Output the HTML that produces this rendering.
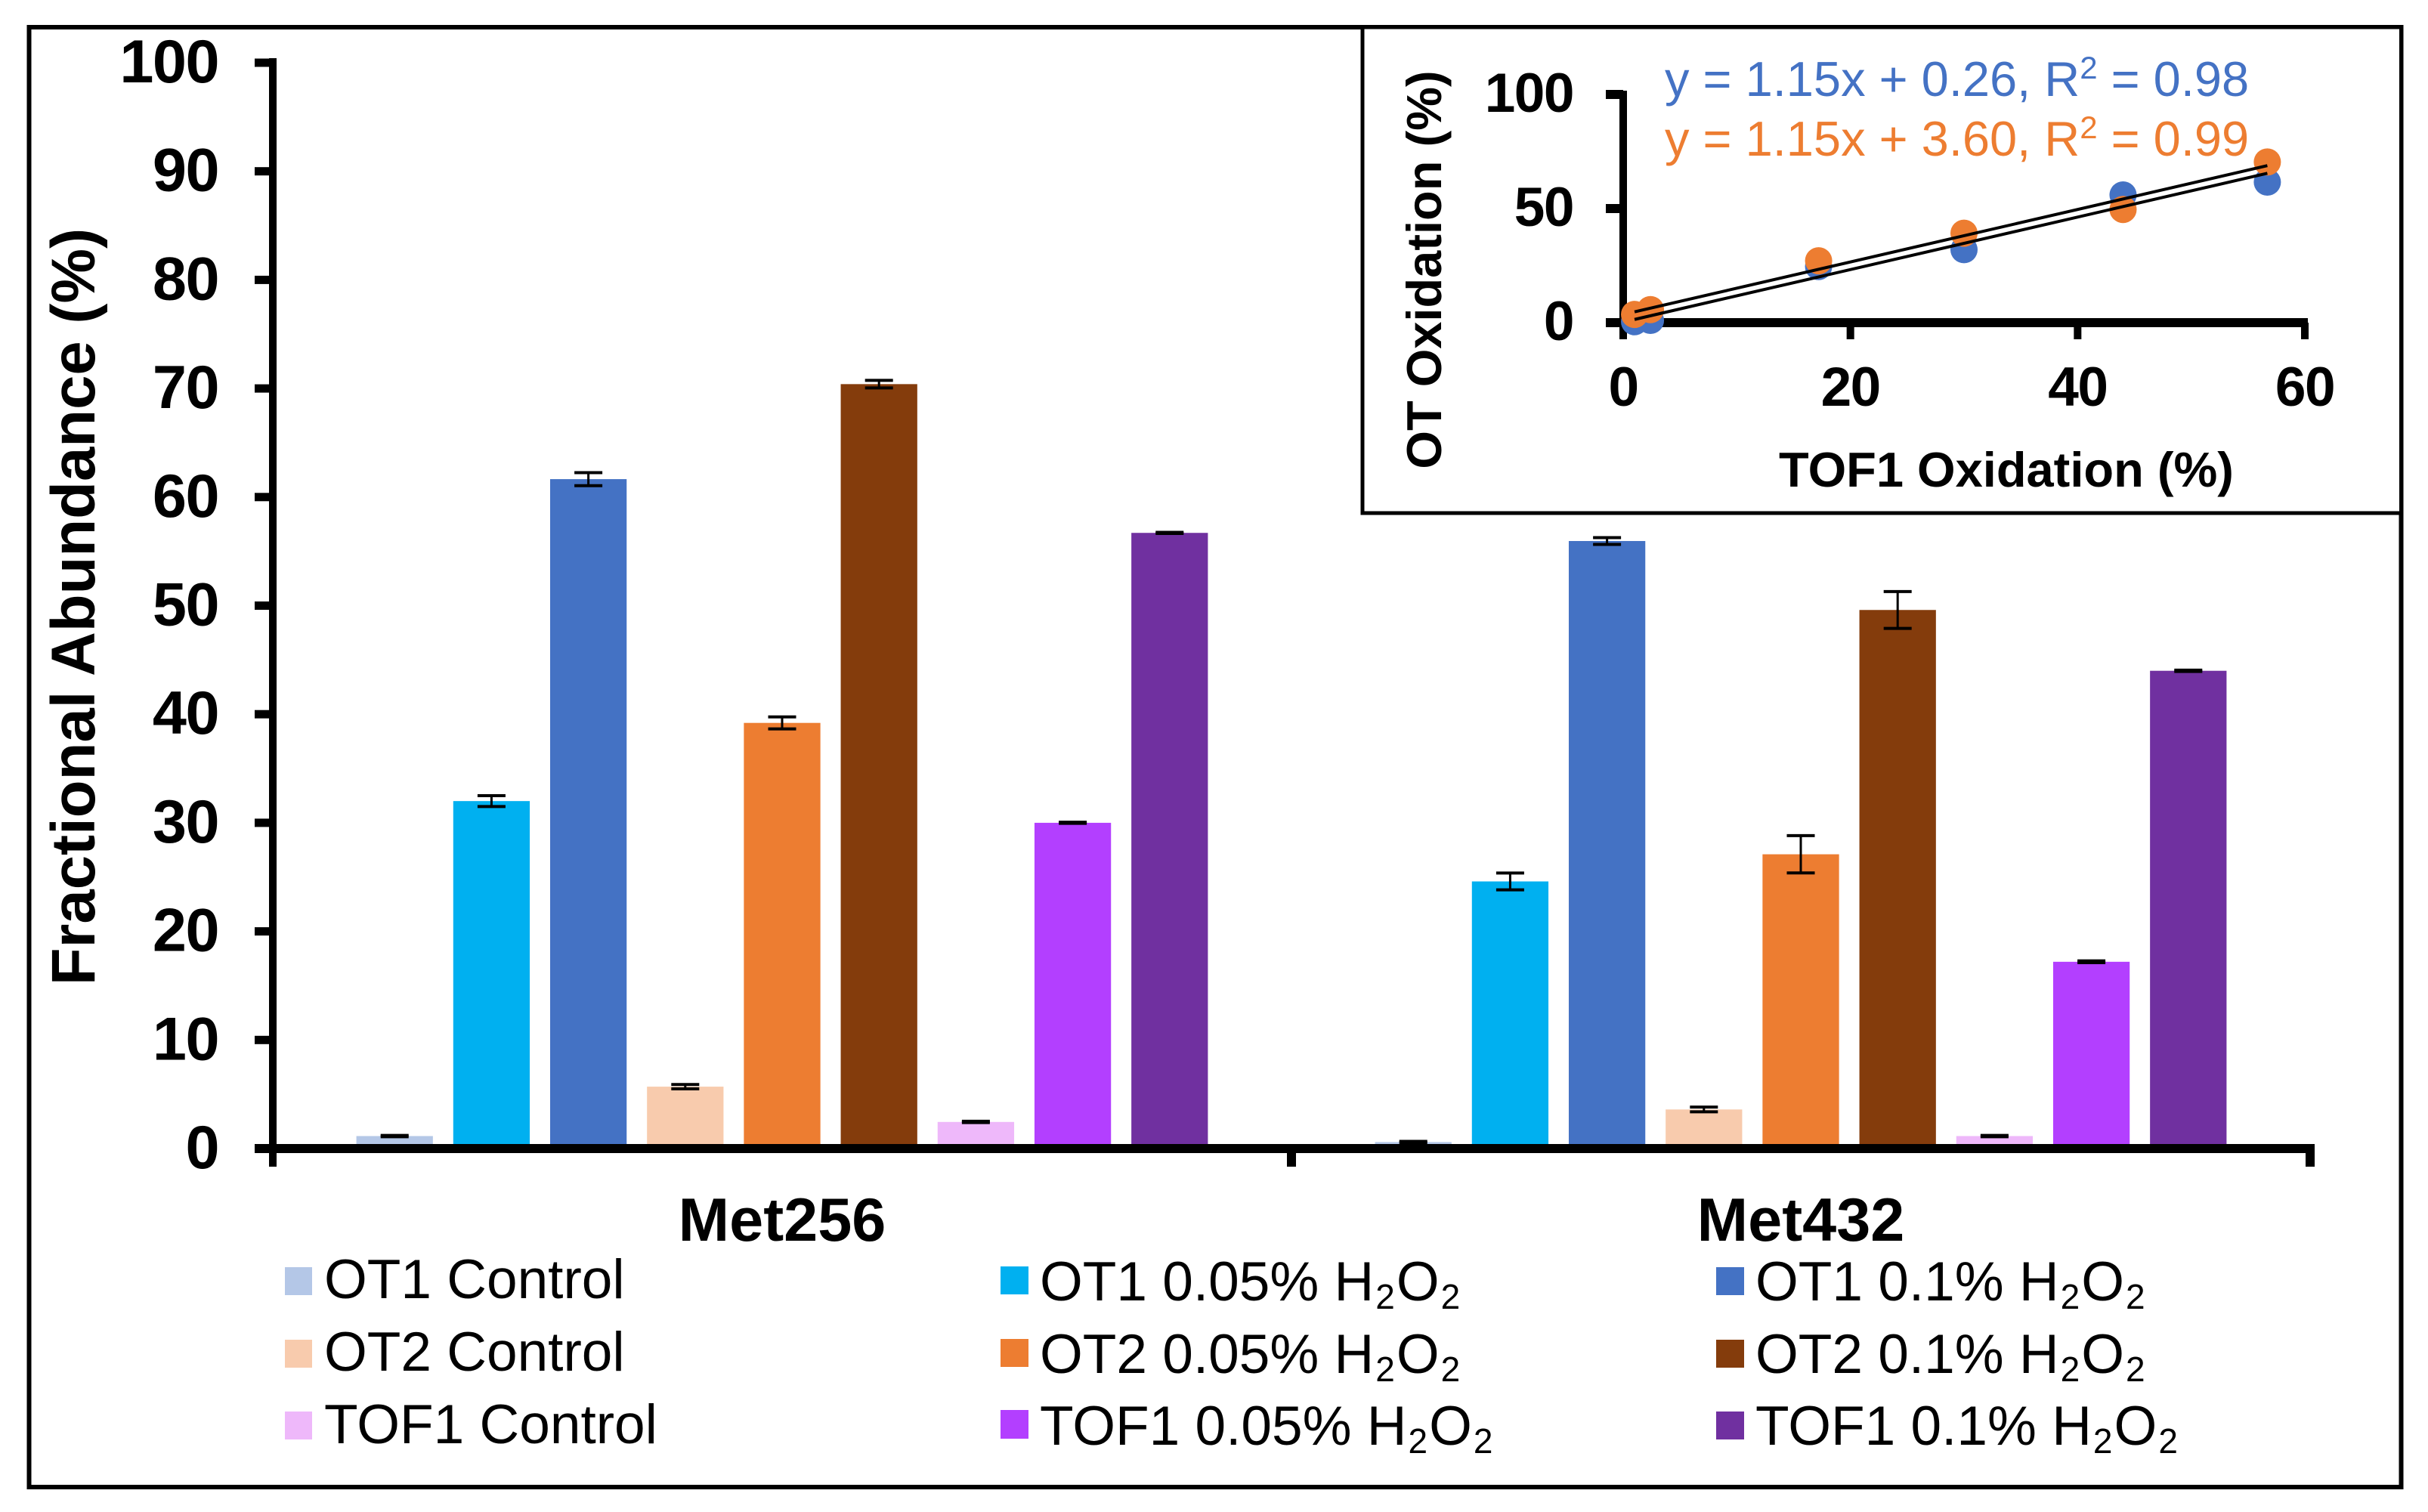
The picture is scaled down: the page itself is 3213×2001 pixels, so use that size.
<!DOCTYPE html>
<html lang="en">
<head>
<meta charset="utf-8">
<title>Fractional Abundance of Met256 and Met432</title>
<style>
html,body{margin:0;padding:0;background:#fff;width:3213px;height:2001px;overflow:hidden}
svg{display:block;font-family:"Liberation Sans",Arial,sans-serif}
.b{font-weight:bold;fill:#000}
.tight{letter-spacing:-1.5px}
.leg{font-size:73px;fill:#000}
</style>
</head>
<body>
<svg id="chart" xmlns="http://www.w3.org/2000/svg" width="3213" height="2001" viewBox="0 0 3213 2001">
  <rect x="0" y="0" width="3213" height="2001" fill="#ffffff"/>
  <rect x="38.5" y="36" width="3139" height="1932" fill="none" stroke="#000" stroke-width="6"/>

  <g id="bars"></g>
  <g id="errors"></g>
  <g id="main-axes"></g>

  <text class="b" font-size="81.5" text-anchor="middle" transform="translate(125,803) rotate(-90)">Fractional Abundance (%)</text>

  <g>
    <rect x="377" y="1677" width="36" height="37" fill="#B4C7E7"/>
    <text class="leg" x="429" y="1718">OT1 Control</text>
    <rect x="377" y="1773" width="36" height="37" fill="#F8CBAD"/>
    <text class="leg" x="429" y="1814">OT2 Control</text>
    <rect x="377" y="1868" width="36" height="37" fill="#EEB8FA"/>
    <text class="leg" x="429" y="1910">TOF1 Control</text>

    <rect x="1324" y="1676" width="37" height="37" fill="#00B0F0"/>
    <text class="leg" x="1376" y="1721">OT1 0.05% H<tspan font-size="46" dy="11" dx="2">2</tspan><tspan dy="-11" dx="2">O</tspan><tspan font-size="46" dy="11" dx="2">2</tspan></text>
    <rect x="1324" y="1772" width="37" height="37" fill="#ED7D31"/>
    <text class="leg" x="1376" y="1817">OT2 0.05% H<tspan font-size="46" dy="11" dx="2">2</tspan><tspan dy="-11" dx="2">O</tspan><tspan font-size="46" dy="11" dx="2">2</tspan></text>
    <rect x="1324" y="1866" width="37" height="38" fill="#B33FFF"/>
    <text class="leg" x="1376" y="1912">TOF1 0.05% H<tspan font-size="46" dy="11" dx="2">2</tspan><tspan dy="-11" dx="2">O</tspan><tspan font-size="46" dy="11" dx="2">2</tspan></text>

    <rect x="2271" y="1677" width="37" height="37" fill="#4472C4"/>
    <text class="leg" x="2323" y="1721">OT1 0.1% H<tspan font-size="46" dy="11" dx="2">2</tspan><tspan dy="-11" dx="2">O</tspan><tspan font-size="46" dy="11" dx="2">2</tspan></text>
    <rect x="2271" y="1773" width="37" height="37" fill="#843C0C"/>
    <text class="leg" x="2323" y="1817">OT2 0.1% H<tspan font-size="46" dy="11" dx="2">2</tspan><tspan dy="-11" dx="2">O</tspan><tspan font-size="46" dy="11" dx="2">2</tspan></text>
    <rect x="2271" y="1868" width="37" height="37" fill="#7030A0"/>
    <text class="leg" x="2323" y="1912">TOF1 0.1% H<tspan font-size="46" dy="11" dx="2">2</tspan><tspan dy="-11" dx="2">O</tspan><tspan font-size="46" dy="11" dx="2">2</tspan></text>
  </g>

  <g>
    <rect x="1803" y="36" width="1374.5" height="643" fill="#ffffff" stroke="#000" stroke-width="5"/>
    <g id="inset-axes"></g>
    <g id="inset-points"></g>
    <g id="inset-lines"></g>
    <text class="b" font-size="65" text-anchor="middle" transform="translate(1907,357) rotate(-90)">OT Oxidation (%)</text>
    <text class="b" font-size="65" text-anchor="middle" x="2655" y="644">TOF1 Oxidation (%)</text>
    <text font-size="65" fill="#4472C4" x="2203" y="127">y = 1.15x + 0.26, R<tspan font-size="42" dy="-23">2</tspan><tspan dy="23"> = 0.98</tspan></text>
    <text font-size="65" fill="#ED7D31" x="2203" y="206">y = 1.15x + 3.60, R<tspan font-size="42" dy="-23">2</tspan><tspan dy="23"> = 0.99</tspan></text>
  </g>
</svg>
<script>
// ----- Main bar chart data -----
const groupNames = ['Met256', 'Met432'];
const seriesNames = ['ot1-control', 'ot1-005', 'ot1-01', 'ot2-control', 'ot2-005', 'ot2-01', 'tof1-control', 'tof1-005', 'tof1-01'];
const seriesColors = ['#B4C7E7', '#00B0F0', '#4472C4', '#F8CBAD', '#ED7D31', '#843C0C', '#EEB8FA', '#B33FFF', '#7030A0'];
const met256Values = [1.15, 32.0, 61.65, 5.7, 39.2, 70.4, 2.45, 30.0, 56.7];
const met432Values = [0.6, 24.6, 55.95, 3.6, 27.1, 49.6, 1.15, 17.2, 44.0];
const met256Errors = [0.06, 0.5, 0.6, 0.2, 0.55, 0.35, 0.06, 0.05, 0.05];
const met432Errors = [0.06, 0.77, 0.31, 0.22, 1.72, 1.7, 0.06, 0.08, 0.06];
const yTickLabels = [0, 10, 20, 30, 40, 50, 60, 70, 80, 90, 100];

// ----- Inset scatter data -----
const tofX = [2.4, 30.0, 56.7, 1.0, 17.2, 44.0];
const ot1Y = [1.0, 32.0, 61.6, 0.4, 24.6, 55.95];
const ot2Y = [5.7, 39.2, 70.4, 3.6, 27.1, 49.6];
const ot1Fit = [1.15, 0.26];
const ot2Fit = [1.15, 3.60];
const fitRange = [1.0, 56.7];
const insetXTicks = [0, 20, 40, 60];
const insetYTicks = [0, 50, 100];

const NS = 'http://www.w3.org/2000/svg';
function make(parent, tag, props, text) {
  const el = document.createElementNS(NS, tag);
  for (const k in props) el.setAttribute(k, props[k]);
  if (text !== undefined) el.textContent = text;
  parent.appendChild(el);
  return el;
}

// Axis functions for the main chart
const axisLeft = 361, axisRight = 3057, axisZero = 1520, axisTop = 83;
const yMax = yTickLabels[yTickLabels.length - 1];
function yScale(v) { return axisZero - (v / yMax) * (axisZero - axisTop); }
function groupCenter(g) { return axisLeft + (g + 0.5) * (axisRight - axisLeft) / groupNames.length; }
const barPitch = (axisRight - axisLeft) / groupNames.length * 0.0951;
const barWidth = barPitch * 0.79;
function barCenter(g, s) { return groupCenter(g) + (s - (seriesNames.length - 1) / 2) * barPitch; }

const barsLayer = document.getElementById('bars');
const errLayer = document.getElementById('errors');
const mainAxes = document.getElementById('main-axes');
const groupValues = [met256Values, met432Values];
const groupErrors = [met256Errors, met432Errors];

groupNames.forEach(function (gName, g) {
  seriesNames.forEach(function (sName, s) {
    const v = groupValues[g][s];
    const e = groupErrors[g][s];
    const cx = barCenter(g, s);
    const bar = make(barsLayer, 'rect', { x: cx - barWidth / 2, y: yScale(v), width: barWidth, height: axisZero - yScale(v), fill: seriesColors[s] });
    
    
    const eg = make(errLayer, 'g', { stroke: '#000', fill: 'none' });
    
    
    make(eg, 'line', { x1: cx, x2: cx, y1: yScale(v + e), y2: yScale(v - e), 'stroke-width': 3 });
    make(eg, 'line', { x1: cx - 18.5, x2: cx + 18.5, y1: yScale(v + e), y2: yScale(v + e), 'stroke-width': 4 });
    make(eg, 'line', { x1: cx - 18.5, x2: cx + 18.5, y1: yScale(v - e), y2: yScale(v - e), 'stroke-width': 4 });
  });
  const lab = make(mainAxes, 'text', { x: groupCenter(g), y: 1642, 'text-anchor': 'middle', 'font-size': 81, 'class': 'b' }, gName);
  
  
});

const yLine = make(mainAxes, 'rect', { x: axisLeft - 5, y: axisTop - 6, width: 10, height: 1544 - axisTop + 6, fill: '#000' });


const xLine = make(mainAxes, 'rect', { x: 337, y: axisZero - 6, width: axisRight + 6 - 337, height: 12, fill: '#000' });



yTickLabels.forEach(function (t) {
  const tick = make(mainAxes, 'rect', { x: 337, y: yScale(t) - 5.5, width: 24, height: 11, fill: '#000' });
  
  
  const lab = make(mainAxes, 'text', { x: 289, y: yScale(t) + 26, 'text-anchor': 'end', 'font-size': 81, 'class': 'b tight' }, String(t));
  
  
});
[1, 2].forEach(function (i) {
  const cx = axisLeft + i * (axisRight - axisLeft) / groupNames.length;
  const tick = make(mainAxes, 'rect', { x: cx - 6, y: axisZero, width: 12, height: 24, fill: '#000' });
  
  
});

// Axis functions for the inset
const inLeft = 2148, inRight = 3050, inZero = 427, inTop = 125;
function inX(v) { return inLeft + (v / insetXTicks[insetXTicks.length - 1]) * (inRight - inLeft); }
function inY(v) { return inZero - (v / insetYTicks[insetYTicks.length - 1]) * (inZero - inTop); }

const inAxes = document.getElementById('inset-axes');
const inYLine = make(inAxes, 'rect', { x: inLeft - 5, y: inTop - 5, width: 10, height: 449 - inTop + 5, fill: '#000' });


const inXLine = make(inAxes, 'rect', { x: 2125, y: inZero - 6, width: inRight + 4 - 2125, height: 12, fill: '#000' });


insetYTicks.forEach(function (t) {
  const tick = make(inAxes, 'rect', { x: 2125, y: inY(t) - 6, width: 23, height: 12, fill: '#000' });
  
  
  const lab = make(inAxes, 'text', { x: 2082, y: inY(t) + 23, 'text-anchor': 'end', 'font-size': 73, 'class': 'b tight' }, String(t));
  
  
});
insetXTicks.forEach(function (t) {
  const tick = make(inAxes, 'rect', { x: inX(t) - 5, y: inZero, width: 10, height: 22, fill: '#000' });
  
  
  const lab = make(inAxes, 'text', { x: inX(t), y: 537, 'text-anchor': 'middle', 'font-size': 73, 'class': 'b tight' }, String(t));
  
  
});

const inPoints = document.getElementById('inset-points');
tofX.forEach(function (x, i) {
  const p = make(inPoints, 'circle', { cx: inX(x), cy: inY(ot1Y[i]), r: 18, fill: '#4472C4' });
  
  
});
tofX.forEach(function (x, i) {
  const p = make(inPoints, 'circle', { cx: inX(x), cy: inY(ot2Y[i]), r: 18, fill: '#ED7D31' });
  
  
});

const inLines = document.getElementById('inset-lines');
function fitValue(fit, x) { return fit[0] * x + fit[1]; }
const ot1Line = make(inLines, 'line', { x1: inX(fitRange[0]), y1: inY(fitValue(ot1Fit, fitRange[0])), x2: inX(fitRange[1]), y2: inY(fitValue(ot1Fit, fitRange[1])), stroke: '#000', 'stroke-width': 4 });


const ot2Line = make(inLines, 'line', { x1: inX(fitRange[0]), y1: inY(fitValue(ot2Fit, fitRange[0])), x2: inX(fitRange[1]), y2: inY(fitValue(ot2Fit, fitRange[1])), stroke: '#000', 'stroke-width': 4 });


</script>
</body>
</html>
